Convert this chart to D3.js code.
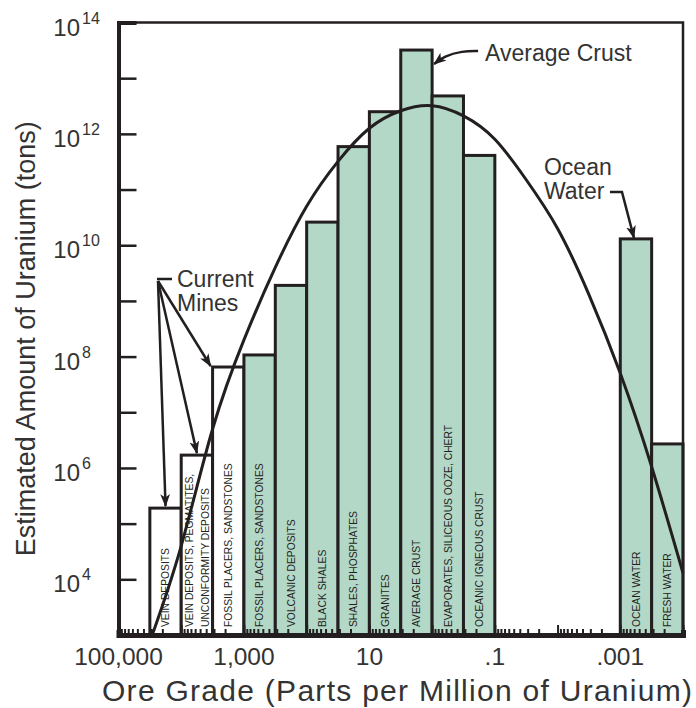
<!DOCTYPE html>
<html>
<head>
<meta charset="utf-8">
<script src="https://cdn.jsdelivr.net/npm/d3@7"></script>
<style>
  body { margin: 0; background: #fff; }
  text { font-family: "Liberation Sans", Arial, sans-serif; }
</style>
</head>
<body>
<svg id="chart" width="696" height="708"></svg>
<script>
// ore grade bins (ppm), half a decade each
var barNames = [
    ["VEIN DEPOSITS"],
    ["VEIN DEPOSITS, PEGMATITES,", "UNCONFORMITY DEPOSITS"],
    ["FOSSIL PLACERS, SANDSTONES"],
    ["FOSSIL PLACERS, SANDSTONES"],
    ["VOLCANIC DEPOSITS"],
    ["BLACK SHALES"],
    ["SHALES, PHOSPHATES"],
    ["GRANITES"],
    ["AVERAGE CRUST"],
    ["EVAPORATES, SILICEOUS OOZE, CHERT"],
    ["OCEANIC IGNEOUS CRUST"],
    ["OCEAN WATER"],
    ["FRESH WATER"]
]
var barFrom = [31623, 10000, 3162, 1000, 316.2, 100, 31.62, 10, 3.162, 1, 0.3162, 0.001, 0.0003162]
var barTo = [10000, 3162, 1000, 316.2, 100, 31.62, 10, 3.162, 1, 0.3162, 0.1, 0.0003162, 0.0001]
var barTons = [1.9e5, 1.7e6, 6.5e7, 1.07e8, 1.9e9, 2.6e10, 5.9e11, 2.5e12, 3.2e13, 4.8e12, 4.1e11, 1.3e10, 2.7e6]
var currentMine = [true, true, true, false, false, false, false, false, false, false, false, false, false]

// the smooth curve
var curveGrade = [29000, 10000, 3162, 1000, 316.2, 100, 31.62, 10, 3.162, 1, 0.3162, 0.1, 0.03162, 0.01, 0.003162, 0.001, 0.0003162, 0.0001]
var curveTons = [1e3, 4e4, 5e6, 2e8, 4e9, 5e10, 3.2e11, 1.26e12, 2.6e12, 3.2e12, 2.1e12, 8e11, 1.5e11, 2e10, 1.3e9, 5e7, 1.05e6, 1.3e4]

var yTickExp = [4, 6, 8, 10, 12, 14]
var xTickValues = [1e5, 1e3, 10, 0.1, 0.001]
var xTickLabels = ["100,000", "1,000", "10", ".1", ".001"]

var ink = "#231f20"
var green = "#b4d8c7"

var svg = d3.select("svg#chart")

var x = d3.scaleLog().domain([1e5, 1e-4]).range([118.5, 683])
var y = d3.scaleLog().domain([1e3, 1e14]).range([635, 22.5])

var defs = svg.append("defs")
defs.append("marker")
    .attr("id", "arrowhead")
    .attr("viewBox", "0 -5 12 10")
    .attr("refX", 11)
    .attr("refY", 0)
    .attr("orient", "auto")
    .attr("markerUnits", "userSpaceOnUse")
    .attr("markerWidth", 13)
    .attr("markerHeight", 11)
    .append("path")
    .attr("d", "M0,-4.5 L12,0 L0,4.5 L3,0 Z")
    .attr("fill", ink)

// bars
var bars = svg.append("g")
barTons.forEach(function(t, i) {
    bars.append("rect")
        .attr("x", x(barFrom[i]))
        .attr("y", y(t))
        .attr("width", x(barTo[i]) - x(barFrom[i]))
        .attr("height", y(1e3) - y(t))
        .attr("fill", currentMine[i] ? "#fff" : green)
        .attr("stroke", ink)
        .attr("stroke-width", 3)
})

// vertical labels in the bars
var labels = svg.append("g")
barNames.forEach(function(lines, i) {
    var cx = (x(barFrom[i]) + x(barTo[i])) / 2
    lines.forEach(function(line, j) {
        var off = (j - (lines.length - 1) / 2) * 16
        labels.append("text")
            .attr("transform", "translate(" + (cx + off) + "," + (y(1e3) - 8) + ") rotate(-90)")
            .attr("dy", "0.36em")
            .attr("font-size", "10.3px")
            .attr("fill", ink)
            .text(line)
    })
})

// curve
var line = d3.line()
    .x(function(d, i) { return x(curveGrade[i]) })
    .y(function(d) { return y(d) })
    .curve(d3.curveNatural)

svg.append("path")
    .attr("d", line(curveTons))
    .attr("fill", "none")
    .attr("stroke", ink)
    .attr("stroke-width", 3)

// frame
svg.append("path")
    .attr("d", "M" + x(1e5) + "," + y(1e14) + "H" + x(1e-4) + "V" + y(1e3))
    .attr("fill", "none")
    .attr("stroke", ink)
    .attr("stroke-width", 2.5)

// y axis, ticks pointing in
var yAxis = svg.append("g")
    .attr("transform", "translate(" + x(1e5) + ",0)")
    .call(d3.axisLeft(y).tickValues(d3.range(4, 15).map(function(e) { return Math.pow(10, e) }))
        .tickSize(-18).tickFormat(""))
yAxis.select(".domain").attr("stroke", ink).attr("stroke-width", 4)
yAxis.selectAll(".tick line").attr("stroke", ink).attr("stroke-width", 2.5)

yTickExp.forEach(function(e) {
    var ty = y(Math.pow(10, e))
    svg.append("text")
        .attr("x", 80).attr("y", ty + 13)
        .attr("text-anchor", "end")
        .attr("font-size", "24px")
        .attr("fill", "#333")
        .text("10")
    svg.append("text")
        .attr("x", 82).attr("y", ty + 1)
        .attr("font-size", "16px")
        .attr("fill", "#333")
        .text(e)
})

// x axis, log ticks pointing in
var xAxis = svg.append("g")
    .attr("transform", "translate(0," + y(1e3) + ")")
    .call(d3.axisBottom(x).ticks(90).tickSize(-5).tickFormat(""))
xAxis.select(".domain").attr("stroke", ink).attr("stroke-width", 5)
xAxis.selectAll(".tick line")
    .attr("stroke", ink)
    .attr("stroke-width", 2)
    .attr("y2", function(d) {
        var e = Math.log10(d)
        return Math.abs(e - Math.round(e)) < 1e-6 ? -10 : -6
    })

xTickValues.forEach(function(v, i) {
    svg.append("text")
        .attr("x", x(v)).attr("y", y(1e3) + 30)
        .attr("text-anchor", "middle")
        .attr("font-size", "24.5px")
        .attr("fill", "#333")
        .text(xTickLabels[i])
})

// axis titles
svg.append("text")
    .attr("x", 397).attr("y", 701)
    .attr("text-anchor", "middle")
    .attr("font-size", "30px")
    .attr("fill", "#333")
    .attr("textLength", 590)
    .text("Ore Grade (Parts per Million of Uranium)")

svg.append("text")
    .attr("transform", "translate(35," + ((y(1e3) + y(1e14)) / 2 + 10) + ") rotate(-90)")
    .attr("text-anchor", "middle")
    .attr("font-size", "27px")
    .attr("fill", "#333")
    .text("Estimated Amount of Uranium (tons)")

// annotations
var note = svg.append("g").attr("fill", "#333").attr("font-size", "23px")

function arrow(pts, curved) {
    svg.append("path")
        .attr("d", d3.line().curve(curved ? d3.curveBasis : d3.curveLinear)(pts))
        .attr("fill", "none")
        .attr("stroke", ink)
        .attr("stroke-width", 2.5)
        .attr("marker-end", "url(#arrowhead)")
}

// Average Crust
var acX = x(barTo[8]), acY = y(barTons[8])
note.append("text").attr("x", acX + 53).attr("y", acY + 11).text("Average Crust")
arrow([[acX + 46, acY + 1], [acX + 30, acY + 1], [acX + 12, acY + 6], [acX + 2, acY + 14]], true)

// Ocean Water
var owX = (x(barFrom[11]) + x(barTo[11])) / 2, owY = y(barTons[11])
note.append("text").attr("x", owX - 92).attr("y", owY - 64).text("Ocean")
note.append("text").attr("x", owX - 92).attr("y", owY - 40).text("Water")
arrow([[owX - 26, owY - 47], [owX - 14, owY - 47], [owX - 2, owY - 1]])

// Current Mines
var cmX = 157, cmY = 279
note.append("text").attr("x", cmX + 20).attr("y", cmY + 8).text("Current")
note.append("text").attr("x", cmX + 20).attr("y", cmY + 32).text("Mines")
svg.append("line")
    .attr("x1", cmX).attr("y1", cmY).attr("x2", cmX + 15).attr("y2", cmY)
    .attr("stroke", ink).attr("stroke-width", 2.5)
arrow([[cmX + 1, cmY + 2], [(x(barFrom[0]) + x(barTo[0])) / 2, y(barTons[0]) - 2]])
arrow([[cmX + 1, cmY + 2], [(x(barFrom[1]) + x(barTo[1])) / 2, y(barTons[1]) - 2]])
arrow([[cmX + 1, cmY + 2], [x(barFrom[2]) - 2, y(barTons[2]) - 1]])
</script>
</body>
</html>
